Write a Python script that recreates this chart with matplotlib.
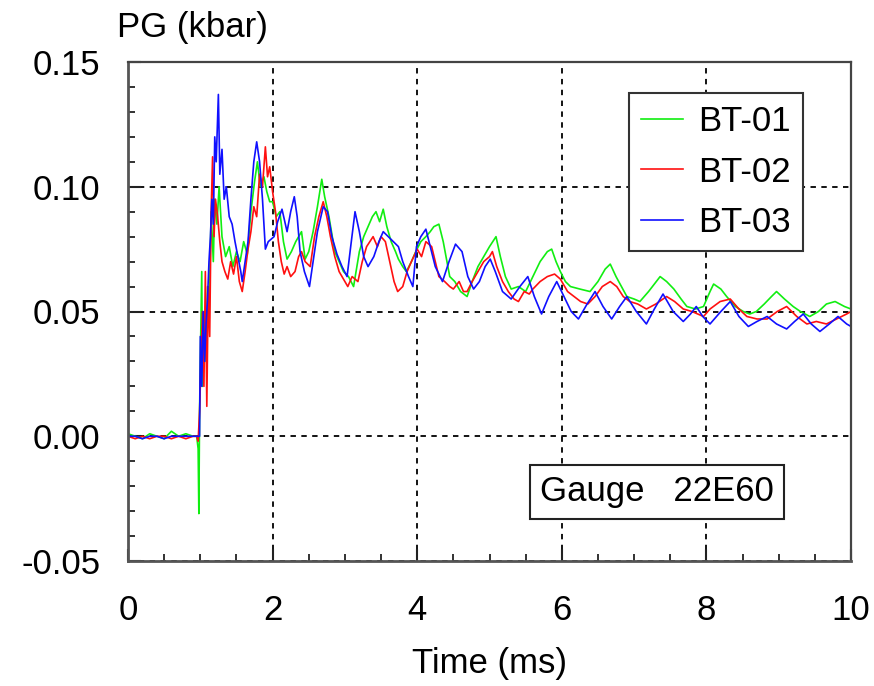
import matplotlib
matplotlib.use("Agg")
import matplotlib.pyplot as plt
from matplotlib.ticker import MultipleLocator, FormatStrFormatter

plt.rcParams['font.family'] = ['Liberation Sans', 'DejaVu Sans']
plt.rcParams['axes.unicode_minus'] = False

# ---------------- data ----------------
t_bt01 = [0.0, 0.1, 0.2, 0.3, 0.4, 0.5, 0.6, 0.7, 0.8, 0.9, 0.95, 0.97, 0.98, 0.99, 1.00,
          1.02, 1.03, 1.05, 1.08, 1.10, 1.12, 1.15, 1.18, 1.20, 1.23, 1.26, 1.30, 1.35, 1.40,
          1.45, 1.50, 1.55, 1.60, 1.65, 1.70, 1.75, 1.79, 1.83, 1.88, 1.92, 1.96, 2.00, 2.05,
          2.10, 2.15, 2.20, 2.26, 2.32, 2.40, 2.45, 2.50, 2.56, 2.62, 2.68, 2.72, 2.78, 2.86,
          2.92, 2.98, 3.05, 3.12, 3.20, 3.26, 3.32, 3.38, 3.43, 3.48, 3.53, 3.58, 3.64, 3.70,
          3.74, 3.80, 3.85, 3.92, 3.98, 4.05, 4.12, 4.18, 4.23, 4.30, 4.36, 4.45, 4.52, 4.60,
          4.69, 4.76, 4.84, 4.92, 5.00, 5.09, 5.15, 5.22, 5.30, 5.40, 5.50, 5.60, 5.70, 5.80,
          5.86, 5.92, 5.98, 6.05, 6.12, 6.25, 6.39, 6.50, 6.60, 6.67, 6.75, 6.90, 7.00, 7.08,
          7.20, 7.36, 7.45, 7.55, 7.65, 7.73, 7.85, 7.96, 8.05, 8.10, 8.20, 8.28, 8.40, 8.51,
          8.60, 8.69, 8.80, 8.90, 8.97, 9.08, 9.20, 9.30, 9.43, 9.55, 9.66, 9.78, 9.91, 10.0]
p_bt01 = [0.001, 0.000, -0.001, 0.001, 0.000, -0.001, 0.002, 0.000, 0.001, 0.000, 0.000, -0.005,
          -0.031, 0.010, 0.030, 0.066, 0.020, 0.045, 0.030, 0.060, 0.045, 0.090, 0.070, 0.095,
          0.085, 0.100, 0.080, 0.072, 0.076, 0.068, 0.074, 0.070, 0.078, 0.073, 0.090, 0.102,
          0.110, 0.100, 0.104, 0.098, 0.094, 0.094, 0.088, 0.090, 0.078, 0.071, 0.074, 0.078,
          0.082, 0.071, 0.074, 0.082, 0.092, 0.103, 0.096, 0.088, 0.074, 0.070, 0.066, 0.064,
          0.060, 0.074, 0.080, 0.084, 0.088, 0.090, 0.086, 0.091, 0.084, 0.078, 0.074, 0.071,
          0.068, 0.066, 0.070, 0.074, 0.078, 0.080, 0.082, 0.084, 0.085, 0.078, 0.064, 0.062,
          0.058, 0.056, 0.062, 0.068, 0.072, 0.076, 0.080, 0.072, 0.064, 0.059, 0.060, 0.058,
          0.064, 0.070, 0.074, 0.075, 0.070, 0.066, 0.062, 0.060, 0.059, 0.058, 0.062, 0.067,
          0.069, 0.064, 0.056, 0.055, 0.054, 0.058, 0.064, 0.062, 0.059, 0.055, 0.052, 0.051,
          0.052, 0.058, 0.061, 0.059, 0.056, 0.052, 0.050, 0.049, 0.050, 0.053, 0.056, 0.058,
          0.055, 0.052, 0.050, 0.048, 0.050, 0.053, 0.054, 0.052, 0.051]

t_bt02 = [0.0, 0.1, 0.2, 0.3, 0.4, 0.5, 0.6, 0.7, 0.8, 0.9, 0.95, 0.97, 0.99, 1.01, 1.03,
          1.05, 1.07, 1.09, 1.11, 1.13, 1.15, 1.17, 1.19, 1.21, 1.24, 1.27, 1.30, 1.34, 1.38,
          1.42, 1.46, 1.50, 1.54, 1.58, 1.62, 1.66, 1.70, 1.74, 1.78, 1.82, 1.86, 1.90, 1.93,
          1.96, 2.00, 2.04, 2.08, 2.12, 2.16, 2.20, 2.25, 2.31, 2.36, 2.40, 2.45, 2.52, 2.58,
          2.64, 2.70, 2.75, 2.80, 2.86, 2.92, 2.98, 3.04, 3.10, 3.18, 3.24, 3.30, 3.39, 3.45,
          3.50, 3.56, 3.62, 3.68, 3.73, 3.80, 3.86, 3.92, 4.00, 4.06, 4.12, 4.20, 4.25, 4.30,
          4.38, 4.45, 4.50, 4.58, 4.64, 4.69, 4.76, 4.84, 4.92, 5.00, 5.04, 5.10, 5.18, 5.26,
          5.34, 5.40, 5.48, 5.55, 5.60, 5.70, 5.80, 5.90, 5.98, 6.08, 6.17, 6.26, 6.36, 6.46,
          6.56, 6.67, 6.76, 6.85, 6.94, 7.05, 7.17, 7.30, 7.45, 7.56, 7.68, 7.80, 7.96, 8.05,
          8.19, 8.33, 8.45, 8.56, 8.70, 8.84, 8.98, 9.11, 9.25, 9.39, 9.52, 9.66, 9.80, 9.94, 10.0]
p_bt02 = [0.000, -0.001, 0.000, -0.001, 0.000, 0.000, -0.001, 0.000, -0.001, 0.000, 0.000,
          -0.002, 0.010, 0.030, 0.050, 0.020, 0.066, 0.012, 0.060, 0.040, 0.090, 0.112, 0.080,
          0.095, 0.088, 0.078, 0.070, 0.066, 0.063, 0.070, 0.065, 0.072, 0.062, 0.058, 0.066,
          0.075, 0.082, 0.092, 0.088, 0.105, 0.100, 0.116, 0.104, 0.108, 0.098, 0.090, 0.078,
          0.070, 0.065, 0.068, 0.064, 0.066, 0.072, 0.074, 0.070, 0.068, 0.080, 0.088, 0.094,
          0.088, 0.080, 0.072, 0.066, 0.063, 0.060, 0.064, 0.062, 0.070, 0.076, 0.080, 0.076,
          0.080, 0.078, 0.070, 0.062, 0.058, 0.060, 0.066, 0.070, 0.075, 0.072, 0.078, 0.076,
          0.070, 0.064, 0.062, 0.060, 0.059, 0.062, 0.058, 0.058, 0.062, 0.066, 0.070, 0.072,
          0.074, 0.068, 0.062, 0.058, 0.055, 0.054, 0.058, 0.057, 0.059, 0.062, 0.064, 0.065,
          0.063, 0.058, 0.056, 0.054, 0.053, 0.056, 0.060, 0.062, 0.060, 0.056, 0.054, 0.053,
          0.051, 0.053, 0.056, 0.054, 0.051, 0.050, 0.048, 0.051, 0.054, 0.055, 0.051, 0.048,
          0.047, 0.047, 0.050, 0.052, 0.048, 0.045, 0.046, 0.045, 0.047, 0.049, 0.050]

t_bt03 = [0.0, 0.1, 0.2, 0.3, 0.4, 0.5, 0.6, 0.7, 0.8, 0.9, 0.99, 1.00, 1.02, 1.04, 1.06,
          1.08, 1.10, 1.12, 1.14, 1.16, 1.18, 1.20, 1.22, 1.25, 1.27, 1.30, 1.33, 1.36, 1.40,
          1.44, 1.48, 1.52, 1.56, 1.58, 1.62, 1.66, 1.70, 1.74, 1.78, 1.82, 1.86, 1.90, 1.94,
          1.98, 2.02, 2.07, 2.13, 2.20, 2.25, 2.30, 2.34, 2.38, 2.44, 2.51, 2.56, 2.62, 2.70,
          2.76, 2.82, 2.89, 2.96, 3.03, 3.08, 3.14, 3.20, 3.26, 3.32, 3.40, 3.47, 3.53, 3.60,
          3.67, 3.74, 3.80, 3.88, 3.94, 3.99, 4.05, 4.12, 4.18, 4.25, 4.35, 4.44, 4.53, 4.62,
          4.70, 4.78, 4.86, 4.94, 5.01, 5.08, 5.18, 5.30, 5.42, 5.53, 5.62, 5.72, 5.82, 5.93,
          6.03, 6.13, 6.23, 6.35, 6.46, 6.57, 6.69, 6.80, 6.90, 7.03, 7.17, 7.28, 7.40, 7.54,
          7.68, 7.78, 7.86, 7.95, 8.05, 8.20, 8.33, 8.45, 8.58, 8.70, 8.84, 8.97, 9.11, 9.22,
          9.34, 9.45, 9.57, 9.70, 9.82, 9.94, 10.0]
p_bt03 = [0.000, 0.000, -0.001, 0.000, 0.000, -0.001, 0.000, 0.000, 0.000, 0.000, 0.000,
          0.040, 0.020, 0.050, 0.030, 0.045, 0.055, 0.070, 0.080, 0.095, 0.085, 0.120, 0.110,
          0.137, 0.105, 0.115, 0.095, 0.100, 0.088, 0.085, 0.078, 0.072, 0.066, 0.062, 0.070,
          0.078, 0.095, 0.110, 0.118, 0.110, 0.095, 0.075, 0.078, 0.079, 0.080, 0.086, 0.091,
          0.082, 0.090, 0.096, 0.088, 0.074, 0.066, 0.060, 0.070, 0.082, 0.092, 0.090, 0.080,
          0.073, 0.068, 0.064, 0.076, 0.090, 0.082, 0.072, 0.068, 0.072, 0.078, 0.082, 0.080,
          0.078, 0.076, 0.070, 0.064, 0.060, 0.076, 0.080, 0.083, 0.076, 0.068, 0.062, 0.070,
          0.077, 0.074, 0.064, 0.059, 0.062, 0.068, 0.071, 0.066, 0.058, 0.055, 0.060, 0.064,
          0.056, 0.049, 0.056, 0.062, 0.056, 0.050, 0.047, 0.053, 0.058, 0.052, 0.047, 0.052,
          0.056, 0.050, 0.045, 0.051, 0.057, 0.050, 0.046, 0.049, 0.052, 0.048, 0.045, 0.050,
          0.054, 0.048, 0.044, 0.046, 0.048, 0.045, 0.043, 0.046, 0.049, 0.045, 0.042, 0.045,
          0.048, 0.045, 0.044]

series_labels = ["BT-01", "BT-02", "BT-03"]
series_colors = ["#11ee11", "#ff1010", "#1010ff"]
x_ticks = [0, 2, 4, 6, 8, 10]
y_ticks = [-0.05, 0.00, 0.05, 0.10, 0.15]
x_label = "Time (ms)"
y_label = "PG (kbar)"
note_text = "Gauge   22E60"

FS = 25

# ---------------- figure ----------------
W, H = 874, 686
fig = plt.figure(figsize=(W / 100, H / 100), dpi=100)
ax = fig.add_axes([128 / W, (H - 561) / H, (851 - 128) / W, (561 - 62) / H])

for t, p, lab, c in zip([t_bt01, t_bt02, t_bt03], [p_bt01, p_bt02, p_bt03],
                        series_labels, series_colors):
    ax.plot(t, p, color=c, lw=1.2, label=lab)

ax.set_xlim(0, 10)
ax.set_ylim(-0.05, 0.15)
ax.set_xticks(x_ticks)
ax.set_yticks(y_ticks)
ax.xaxis.set_minor_locator(MultipleLocator(0.5))
ax.yaxis.set_minor_locator(MultipleLocator(0.01))
ax.yaxis.set_major_formatter(FormatStrFormatter('%.2f'))
ax.tick_params(which='major', direction='in', length=9, width=1.5, color='#222222',
               labelsize=FS, top=False, right=False)
ax.tick_params(axis='x', which='major', pad=24)
ax.tick_params(axis='y', which='major', pad=20)
ax.tick_params(which='minor', direction='in', length=5, width=1.3, color='#222222',
               top=False, right=False)

ax.grid(which='major', color='black', ls=(0, (3, 3)), lw=1.3)
for s in ['left', 'bottom']:
    ax.spines[s].set_linewidth(2.0)
    ax.spines[s].set_color('#555555')
for s in ['top', 'right']:
    ax.spines[s].set_linewidth(1.6)
    ax.spines[s].set_color('#444444')

ax.set_xlabel(x_label, fontsize=FS, labelpad=14)
fig.text(117 / W, 1 - 27 / H, y_label, fontsize=FS, ha='left', va='center')

leg = ax.legend(loc='upper right', bbox_to_anchor=((803 - 128) / 723, (561 - 93) / 499),
                borderaxespad=0, fontsize=FS, handlelength=1.2, handletextpad=0.45,
                labelspacing=0.5, borderpad=0.35, fancybox=False, framealpha=1,
                edgecolor='#333333')
leg.get_frame().set_linewidth(1.5)

ax.text((657 - 128) / 723, (561 - 492) / 499, note_text, transform=ax.transAxes,
        fontsize=FS, ha='center', va='center',
        bbox=dict(boxstyle='square,pad=0.3', fc='white', ec='#222222', lw=1.5))

fig.savefig("out.png", dpi=100)
